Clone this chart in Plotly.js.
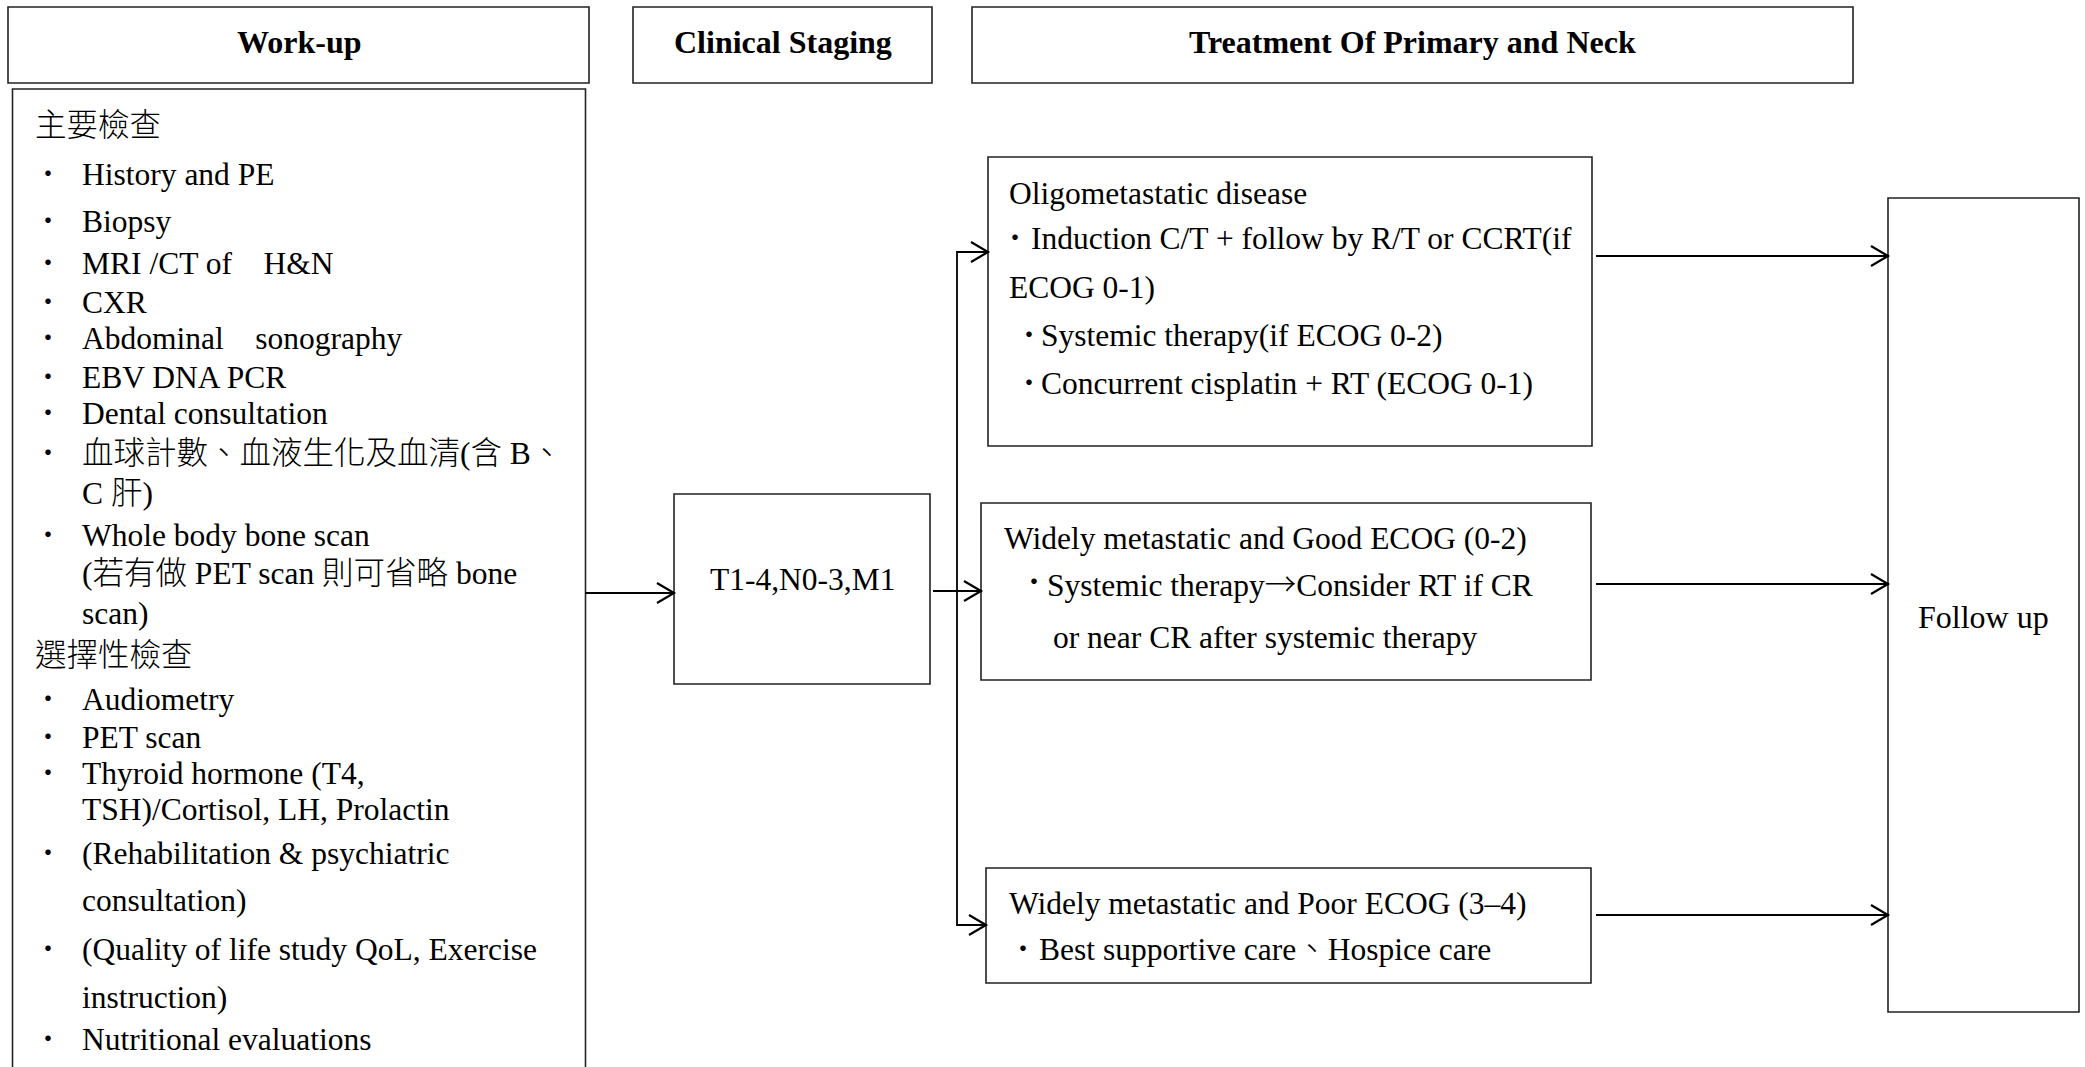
<!DOCTYPE html>
<html>
<head>
<meta charset="utf-8">
<script src="https://cdn.plot.ly/plotly-3.0.1.min.js"></script>
<style>
html,body{margin:0;padding:0;background:#ffffff;}
#chart{width:2085px;height:1067px;}
</style>
</head>
<body>
<div id="chart"></div>
<script>
// ---------------- DATA (text content) ----------------
const headerLabels = ['Work-up', 'Clinical Staging', 'Treatment Of Primary and Neck'];

const workupMainTitle = '主要檢查';
const workupMainItems = [
  ['History and PE'],
  ['Biopsy'],
  ['MRI /CT of\u00A0\u00A0\u00A0\u00A0H&N'],
  ['CXR'],
  ['Abdominal\u00A0\u00A0\u00A0\u00A0sonography'],
  ['EBV DNA PCR'],
  ['Dental consultation'],
  ['血球計數、血液生化及血清(含 B、', 'C 肝)'],
  ['Whole body bone scan', '(若有做 PET scan 則可省略 bone', 'scan)']
];
const workupOptTitle = '選擇性檢查';
const workupOptItems = [
  ['Audiometry'],
  ['PET scan'],
  ['Thyroid hormone (T4,', 'TSH)/Cortisol, LH, Prolactin'],
  ['(Rehabilitation & psychiatric', 'consultation)'],
  ['(Quality of life study QoL, Exercise', 'instruction)'],
  ['Nutritional evaluations']
];

const stagingLabel = 'T1-4,N0-3,M1';

const oligoTitle = 'Oligometastatic disease';
const oligoItems = [
  ['Induction C/T + follow by R/T or CCRT(if', 'ECOG 0-1)'],
  ['Systemic therapy(if ECOG 0-2)'],
  ['Concurrent cisplatin + RT (ECOG 0-1)']
];
const goodTitle = 'Widely metastatic and Good ECOG (0-2)';
const goodItems = [
  ['Systemic therapy\u2192Consider RT if CR', 'or near CR after systemic therapy']
];
const poorTitle = 'Widely metastatic and Poor ECOG (3\u20134)';
const poorItems = [
  ['Best supportive care\u3001Hospice care']
];
const followLabel = 'Follow up';
const bulletChar = '\u30FB';

// ---------------- LAYOUT GEOMETRY (positions / styles) ----------------
const W = 2085, H = 1067;
const SERIF = "'Liberation Serif', 'Times New Roman', 'Noto Sans CJK TC', serif";
const CJK = "Noto Sans CJK TC";
const BODY = 31.5;
const BOX_COLOR = '#222222', BOX_W = 1.6;
const ARROW_COLOR = '#000000', ARROW_W = 2.2;

const headerBoxes = [[8, 7, 589, 83], [633, 7, 932, 83], [972, 7, 1853, 83]];
const workupBox = [12.5, 89, 585.5, 1090];
const stagingBox = [674, 494, 930, 684];
const oligoBox = [988, 157, 1592, 446];
const goodBox = [981, 503, 1591, 680];
const poorBox = [986, 868, 1591, 983];
const followBox = [1888, 198, 2079, 1012];

// work-up text layout
const wuTitleX = 34, wuBulletX = 48, wuTextX = 81;
const wuMainTitleY = 125;
const wuMainYs = [[174], [221], [263], [302], [338], [377], [413], [453, 493], [535, 573, 613]];
const wuOptTitleY = 655;
const wuOptYs = [[699], [737], [773, 809], [853, 900], [949, 997], [1039]];

// treatment boxes text layout: title pos, then per item: bullet x, per-line [x, y]
const oligoLayout = {title: [1008, 193], items: [
  {bx: 1015, lines: [[1030, 238], [1008, 287]]},
  {bx: 1029, lines: [[1040, 335]]},
  {bx: 1029, lines: [[1040, 383]]}
]};
const goodLayout = {title: [1003, 538], items: [
  {bx: 1034, lines: [[1046, 582], [1052, 637]]}
]};
const poorLayout = {title: [1008, 903], items: [
  {bx: 1023, lines: [[1038, 949]]}
]};

// ---------------- BUILD ----------------
const shapes = [];
const annotations = [];

function rect(b) {
  shapes.push({type: 'rect', xref: 'x', yref: 'y', x0: b[0], y0: b[1], x1: b[2], y1: b[3],
    line: {color: BOX_COLOR, width: BOX_W}, fillcolor: 'rgba(0,0,0,0)', layer: 'above'});
}
function pathShape(d, color, width) {
  shapes.push({type: 'path', xref: 'x', yref: 'y', path: d,
    line: {color: color, width: width}, fillcolor: 'rgba(0,0,0,0)', layer: 'above'});
}
function head(x, y) {
  pathShape('M' + (x - 17) + ',' + (y - 10) + ' L' + x + ',' + y + ' L' + (x - 17) + ',' + (y + 10), ARROW_COLOR, ARROW_W);
}
// full-size arrows come from the CJK font
function markup(t) {
  return t.replace(/([\u2190-\u21FF]+)/g, '<span style="font-family:' + CJK + '">$1</span>');
}
function text(t, x, y, opt) {
  opt = opt || {};
  annotations.push({text: markup(t), x: x, y: y, xref: 'x', yref: 'y', showarrow: false,
    xanchor: opt.anchor || 'left', yanchor: 'middle', align: 'left', borderpad: 0,
    font: {family: opt.family || SERIF, size: opt.size || BODY, color: '#000000', weight: opt.weight || 300}});
}
function bullet(x, y) {
  annotations.push({text: bulletChar, x: x, y: y, xref: 'x', yref: 'y', showarrow: false,
    xanchor: 'center', yanchor: 'middle', borderpad: 0,
    font: {family: SERIF, size: 26, color: '#000000'}});
}

// header boxes
headerBoxes.forEach(function (b, i) {
  rect(b);
  text(headerLabels[i], (b[0] + b[2]) / 2, (b[1] + b[3]) / 2 - 3, {anchor: 'center', weight: 'bold', size: 32});
});

// work-up list
rect(workupBox);
text(workupMainTitle, wuTitleX, wuMainTitleY);
workupMainItems.forEach(function (lines, i) {
  bullet(wuBulletX, wuMainYs[i][0]);
  lines.forEach(function (ln, j) { text(ln, wuTextX, wuMainYs[i][j]); });
});
text(workupOptTitle, wuTitleX, wuOptTitleY);
workupOptItems.forEach(function (lines, i) {
  bullet(wuBulletX, wuOptYs[i][0]);
  lines.forEach(function (ln, j) { text(ln, wuTextX, wuOptYs[i][j]); });
});

// staging
rect(stagingBox);
text(stagingLabel, (stagingBox[0] + stagingBox[2]) / 2, 579, {anchor: 'center'});

// treatment boxes
function treatBox(box, title, items, lay) {
  rect(box);
  text(title, lay.title[0], lay.title[1]);
  items.forEach(function (lines, i) {
    const it = lay.items[i];
    bullet(it.bx, it.lines[0][1]);
    lines.forEach(function (ln, j) { text(ln, it.lines[j][0], it.lines[j][1]); });
  });
}
treatBox(oligoBox, oligoTitle, oligoItems, oligoLayout);
treatBox(goodBox, goodTitle, goodItems, goodLayout);
treatBox(poorBox, poorTitle, poorItems, poorLayout);

// follow up
rect(followBox);
text(followLabel, (followBox[0] + followBox[2]) / 2, 617, {anchor: 'center', size: 32});

// connectors
const wuArrowY = 593;
pathShape('M' + workupBox[2] + ',' + wuArrowY + ' L' + stagingBox[0] + ',' + wuArrowY, ARROW_COLOR, ARROW_W);
head(stagingBox[0], wuArrowY);

const stArrowY = 591;
pathShape('M' + (stagingBox[2] + 3) + ',' + stArrowY + ' L' + goodBox[0] + ',' + stArrowY, ARROW_COLOR, ARROW_W);
head(goodBox[0], stArrowY);

const trunkX = 957, oligoArrowY = 252, poorArrowY = 925;
pathShape('M' + oligoBox[0] + ',' + oligoArrowY + ' L' + trunkX + ',' + oligoArrowY + ' L' + trunkX + ',' + poorArrowY + ' L' + poorBox[0] + ',' + poorArrowY, ARROW_COLOR, 1.8);
head(oligoBox[0], oligoArrowY);
head(poorBox[0], poorArrowY);

// to follow up
const followArrowYs = [256, 584, 915];
followArrowYs.forEach(function (y) {
  pathShape('M1596,' + y + ' L' + followBox[0] + ',' + y, ARROW_COLOR, ARROW_W);
  head(followBox[0], y);
});

const layout = {
  width: W, height: H,
  margin: {l: 0, r: 0, t: 0, b: 0, pad: 0},
  paper_bgcolor: '#ffffff', plot_bgcolor: '#ffffff',
  showlegend: false,
  xaxis: {range: [0, W], visible: false, fixedrange: true},
  yaxis: {range: [H, 0], visible: false, fixedrange: true},
  shapes: shapes,
  annotations: annotations
};

Plotly.newPlot('chart', [], layout, {staticPlot: true, displayModeBar: false});
</script>
</body>
</html>
